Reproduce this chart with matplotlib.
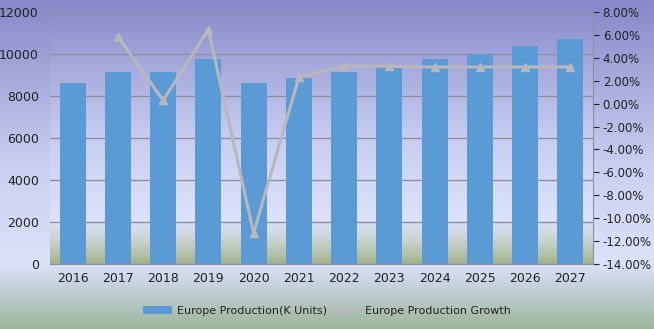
import numpy as np
import matplotlib.pyplot as plt
from matplotlib.colors import LinearSegmentedColormap
from matplotlib.ticker import FuncFormatter

years = ['2016', '2017', '2018', '2019', '2020', '2021',
         '2022', '2023', '2024', '2025', '2026', '2027']
production = [8620, 9140, 9130, 9760, 8620, 8850,
              9140, 9430, 9760, 10000, 10380, 10710]
growth = [None, 5.85, 0.3, 6.45, -11.3, 2.3,
          3.3, 3.25, 3.2, 3.2, 3.2, 3.2]

fig = plt.figure(figsize=(6.54, 3.29), dpi=100)

# background gradient for the whole figure
bg = fig.add_axes([0, 0, 1, 1], zorder=-10)
bg_cmap = LinearSegmentedColormap.from_list(
    'bg', [(0, '#9eb59c'), (0.12, '#c2d0d8'), (0.2, '#dce2f8'),
           (0.5, '#c9cff0'), (1, '#8688c8')])
bg.imshow(np.linspace(0, 1, 256).reshape(-1, 1), aspect='auto', cmap=bg_cmap,
          origin='lower', extent=[0, 1, 0, 1])
bg.set_axis_off()

ax = fig.add_axes([50 / 654, 65 / 329, 543 / 654, 252 / 329])
pa_cmap = LinearSegmentedColormap.from_list(
    'pa', [(0, '#a3b48a'), (0.08, '#c5cfc8'), (0.17, '#dde3fb'),
           (0.5, '#c8cdf0'), (1, '#8c8ecc')])
ax.imshow(np.linspace(0, 1, 256).reshape(-1, 1), aspect='auto', cmap=pa_cmap,
          origin='lower', extent=[-0.5, 11.5, 0, 12000], zorder=0)

x = np.arange(len(years))
ax.bar(x, production, width=0.58, color='#5b9bd5', zorder=3,
       label='Europe Production(K Units)')
ax.set_xlim(-0.5, 11.5)
ax.set_ylim(0, 12000)
ax.set_yticks(range(0, 12001, 2000))
ax.set_xticks(x)
ax.set_xticklabels(years)
ax.grid(axis='y', color='#8f8f9f', linewidth=1, zorder=1)
for s in ['top', 'left', 'right']:
    ax.spines[s].set_visible(False)
ax.spines['bottom'].set_color('#8f8f9f')
ax.tick_params(axis='y', length=0, labelsize=9, colors='#222222', pad=8)
ax.tick_params(axis='x', length=0, labelsize=9, colors='#222222', pad=6)

ax2 = ax.twinx()
gx = [i for i, g in enumerate(growth) if g is not None]
gy = [g for g in growth if g is not None]
ax2.plot(gx, gy, color='#b8b8bc', linewidth=2.2, marker='^', markersize=6,
         zorder=4, label='Europe Production Growth')
ax2.set_ylim(-14, 8)
ax2.set_yticks(np.arange(-14, 8.1, 2))
ax2.yaxis.set_major_formatter(FuncFormatter(lambda v, p: f'{v:.2f}%'))
for s in ['top', 'left', 'bottom']:
    ax2.spines[s].set_visible(False)
ax2.spines['right'].set_color('#8f8f9f')
ax2.tick_params(axis='y', length=4, labelsize=8.5, colors='#222222', pad=3)
for t in ax2.yaxis.get_ticklines():
    t.set_color('#8f8f9f')

h1, l1 = ax.get_legend_handles_labels()
h2, l2 = ax2.get_legend_handles_labels()
fig.legend(h1 + h2, l1 + l2, loc='center', bbox_to_anchor=(0.5, 18 / 329),
           ncol=2, frameon=False, fontsize=8, handlelength=2.6,
           handletextpad=0.5, columnspacing=0.3, labelcolor='#222222')

fig.savefig('out.png', dpi=100)
